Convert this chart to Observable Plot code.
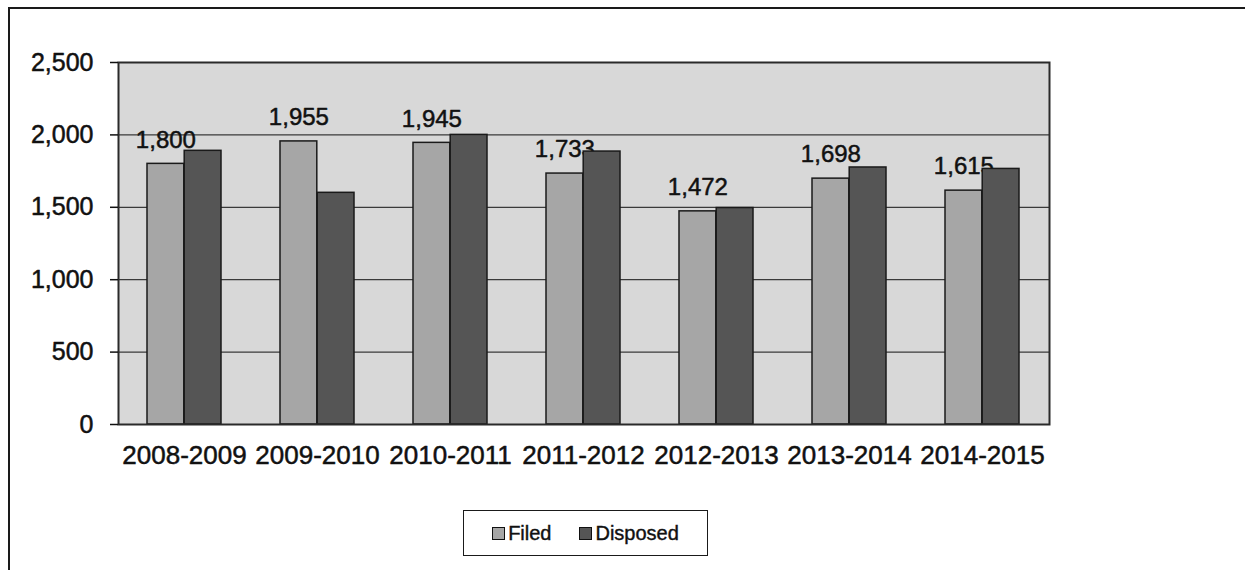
<!DOCTYPE html>
<html>
<head>
<meta charset="utf-8">
<script src="https://cdn.jsdelivr.net/npm/d3@7"></script>
<script src="https://cdn.jsdelivr.net/npm/@observablehq/plot@0.6"></script>
<style>
  html, body { margin: 0; padding: 0; background: #fff; }
  body { width: 1245px; height: 570px; position: relative; overflow: hidden; font-family: "Liberation Sans", Arial, sans-serif; }
  #outer { position: absolute; left: 8px; top: 7px; right: -4px; bottom: -4px; border-top: 2px solid #1a1a1a; border-left: 2px solid #1a1a1a; pointer-events: none; }
  #chart { position: absolute; left: 0; top: 0; }
  #legend { position: absolute; left: 463px; top: 510px; width: 243px; height: 44px; border: 1.5px solid #1a1a1a; background: #fff;
            display: flex; align-items: center; justify-content: center; gap: 28px; font-size: 20px; color: #111; -webkit-text-stroke: 0.4px #111; }
  #legend .item { display: flex; align-items: center; gap: 3px; }
  #legend .sw { width: 11px; height: 11px; border: 1.5px solid #111; display: inline-block; -webkit-text-stroke: 0; }
</style>
</head>
<body>
<div id="chart"></div>
<div id="outer"></div>
<div id="legend"></div>
<script>
const categories = ["2008-2009", "2009-2010", "2010-2011", "2011-2012", "2012-2013", "2013-2014", "2014-2015"];
const filed = [1800, 1955, 1945, 1733, 1472, 1698, 1615];
const disposed = [1890, 1600, 2000, 1885, 1495, 1775, 1765];
const yTicks = [0, 500, 1000, 1500, 2000, 2500];
const seriesNames = ["Filed", "Disposed"];
const seriesColors = ["#a6a6a6", "#555555"];

const filedData = categories.map((c, i) => ({cat: c, value: filed[i]}));
const disposedData = categories.map((c, i) => ({cat: c, value: disposed[i]}));

const half = 37.2;
const chart = Plot.plot({
  width: 1245,
  height: 484,
  marginLeft: 118,
  marginRight: 196,
  marginTop: 62,
  marginBottom: 60,
  style: {background: "transparent", fontFamily: "'Liberation Sans', Arial, sans-serif", color: "#111"},
  x: {domain: categories, paddingInner: 0.44, paddingOuter: 0.22, label: null},
  y: {domain: [0, 2500], label: null},
  marks: [
    Plot.frame({fill: "#d8d8d8"}),
    Plot.gridY(yTicks, {stroke: "#3a3a3a", strokeOpacity: 1, strokeWidth: 1.2}),
    Plot.barY(filedData, {x: "cat", y: "value", fill: seriesColors[0], stroke: "#1a1a1a", strokeWidth: 1.5, insetRight: half}),
    Plot.text(filedData, {x: "cat", y: "value", text: d => d3.format(",")(d.value), dx: -half / 2, dy: -24, fontSize: 24, fill: "#111", stroke: "#111", strokeWidth: 0.5}),
    Plot.barY(disposedData, {x: "cat", y: "value", fill: seriesColors[1], stroke: "#1a1a1a", strokeWidth: 1.5, insetLeft: half}),
    Plot.frame({stroke: "#2a2a2a", strokeWidth: 2}),
    Plot.axisY({ticks: yTicks, tickFormat: d3.format(","), fontSize: 25, tickSize: 8, tickPadding: 17, stroke: "#111", strokeWidth: 1.5, textStroke: "#111", textStrokeWidth: 0.5}),
    Plot.axisX({tickSize: 0, tickPadding: 21, fontSize: 26, textStroke: "#111", textStrokeWidth: 0.5})
  ]
});
document.getElementById("chart").appendChild(chart);

const legend = document.getElementById("legend");
seriesNames.forEach((name, i) => {
  const item = document.createElement("div");
  item.className = "item";
  const sw = document.createElement("span");
  sw.className = "sw";
  sw.style.background = seriesColors[i];
  const lab = document.createElement("span");
  lab.textContent = name;
  item.appendChild(sw);
  item.appendChild(lab);
  legend.appendChild(item);
});
</script>
</body>
</html>
